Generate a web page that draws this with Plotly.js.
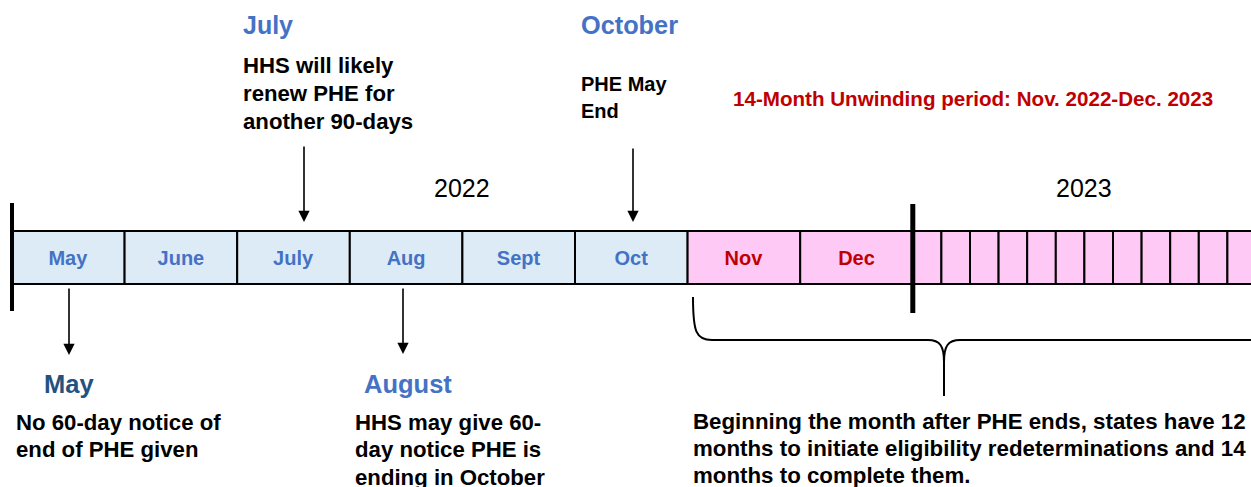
<!DOCTYPE html>
<html><head><meta charset="utf-8">
<script src="https://cdn.plot.ly/plotly-3.0.1.min.js"></script>
<style>html,body{margin:0;padding:0;background:#fff;overflow:hidden}#chart{width:1251px;height:487px}</style>
</head><body><div id="chart"></div>
<script>
// ---- data ----
const months2022 = ['May','June','July','Aug','Sept','Oct','Nov','Dec'];
const unwind2022 = ['Nov','Dec'];
const months2023 = ['Jan','Feb','Mar','Apr','May','Jun','Jul','Aug','Sep','Oct','Nov','Dec'];
const yearLabels = ['2022','2023'];
const topHeaders = ['July','October'];
const julyNote = ['HHS will likely','renew PHE for','another 90-days'];
const octoberNote = ['PHE May','End'];
const unwindTitle = '14-Month Unwinding period: Nov. 2022-Dec. 2023';
const bottomHeaders = ['May','August'];
const mayNote = ['No 60-day notice of','end of PHE given'];
const augustNote = ['HHS may give 60-','day notice PHE is','ending in October'];
const unwindNote = ['Beginning the month after PHE ends, states have 12','months to initiate eligibility redeterminations and 14','months to complete them.'];

// ---- geometry / style ----
const FONT = 'Liberation Sans, Arial, Helvetica, sans-serif';
const BLUE = '#4472C4', NAVY = '#23527F', RED = '#C00000';
const FILL_PRE = '#DDEBF7', FILL_UNWIND = '#FFC9F5';
const X0 = 12, UNIT = 112.6, W2023 = 0.254;
const X = px => (px - X0) / UNIT;
const BOX_TOP = 231, BOX_H = 53;

const centers = [], widths = [], colors = [], labels = [], tcolors = [];
months2022.forEach((m, i) => {
  const un = unwind2022.includes(m);
  centers.push(i + 0.5); widths.push(1);
  colors.push(un ? FILL_UNWIND : FILL_PRE);
  labels.push('<b>' + m + '</b>');
  tcolors.push(un ? RED : BLUE);
});
const start2023 = months2022.length;
months2023.forEach((m, j) => {
  centers.push(start2023 + (j + 0.5) * W2023); widths.push(W2023);
  colors.push(FILL_UNWIND); labels.push(''); tcolors.push(RED);
});

const trace = {
  type: 'bar', x: centers, y: centers.map(() => BOX_H), base: BOX_TOP, width: widths,
  marker: {color: colors, line: {color: '#000', width: 2}},
  text: labels, textposition: 'inside', insidetextanchor: 'middle', textangle: 0,
  constraintext: 'none',
  textfont: {family: FONT, size: 20, color: tcolors},
  hoverinfo: 'skip', cliponaxis: false
};

const ann = [];
function txt(str, px, py, size, color, bold, anchor) {
  ann.push({xref: 'x', yref: 'y', x: X(px), y: py, text: bold ? '<b>' + str + '</b>' : str,
    showarrow: false, xanchor: anchor || 'left', yanchor: 'middle', borderpad: 0, borderwidth: 0,
    font: {family: FONT, size: size, color: color}});
}
function lines(arr, px, py, dy, size) {
  arr.forEach((s, k) => txt(s, px, py + k * dy, size, '#000', true));
}
function arrow(px, tipY, tailY) {
  ann.push({xref: 'x', yref: 'y', axref: 'x', ayref: 'y', x: X(px), y: tipY, ax: X(px), ay: tailY,
    text: '', showarrow: true, arrowhead: 2, arrowsize: 1.4, arrowwidth: 1.6, arrowcolor: '#000',
    standoff: 0, startstandoff: 0, font: {size: 1}});
}

txt(topHeaders[0], 243, 25, 25, BLUE, true);
lines(julyNote, 243, 65, 28.3, 22.2);
txt(topHeaders[1], 581, 25, 25.3, BLUE, true);
lines(octoberNote, 581, 84, 27, 20);
txt(unwindTitle, 733, 98, 20.6, RED, true);
txt(yearLabels[0], X0 + 4 * UNIT, 188, 25, '#000', false, 'center');
txt(yearLabels[1], X0 + (start2023 + 6 * W2023) * UNIT, 188, 25, '#000', false, 'center');
txt(bottomHeaders[0], 44, 384, 25.5, NAVY, true);
lines(mayNote, 16, 422, 27.5, 22.2);
txt(bottomHeaders[1], 364, 384, 25.5, BLUE, true);
lines(augustNote, 355, 422, 27.5, 22.2);
lines(unwindNote, 693, 421, 27, 22.3);

arrow(304, 222, 145);
arrow(633, 222, 147);
arrow(69, 355, 287);
arrow(403, 354, 287);

const bx = X, brace = 'M ' + bx(693) + ',297 C ' + bx(693) + ',332 ' + bx(696) + ',340 ' + bx(712) + ',340 L ' + bx(928) + ',340 C ' +
  bx(940) + ',340 ' + bx(944) + ',346 ' + bx(944) + ',362 L ' + bx(944) + ',396 M ' + bx(944) + ',362 C ' + bx(944) + ',346 ' +
  bx(948) + ',340 ' + bx(960) + ',340 L ' + bx(1260) + ',340';

const shapes = [
  {type: 'line', xref: 'x', yref: 'y', x0: 0, x1: 0, y0: 203, y1: 311, line: {color: '#000', width: 4}},
  {type: 'line', xref: 'x', yref: 'y', x0: start2023, x1: start2023, y0: 204, y1: 313, line: {color: '#000', width: 5}},
  {type: 'path', xref: 'x', yref: 'y', path: brace, line: {color: '#000', width: 2}}
];

const layout = {
  width: 1251, height: 487, margin: {l: 0, r: 0, t: 0, b: 0, pad: 0},
  paper_bgcolor: '#fff', plot_bgcolor: '#fff', showlegend: false,
  xaxis: {range: [X(0), X(1251)], visible: false, fixedrange: true},
  yaxis: {range: [487, 0], visible: false, fixedrange: true},
  annotations: ann, shapes: shapes
};
Plotly.newPlot('chart', [trace], layout, {displayModeBar: false, staticPlot: true});
</script></body></html>
